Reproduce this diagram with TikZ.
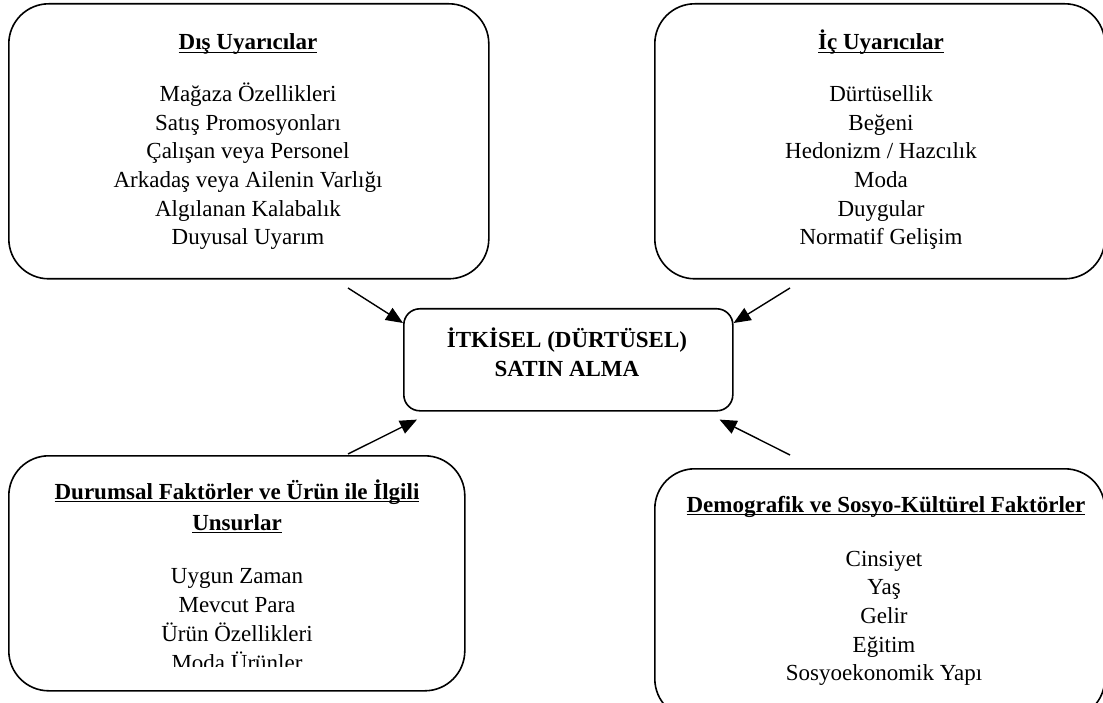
\documentclass[tikz,border=0pt]{standalone}
\usepackage{fontspec}
\setmainfont{Liberation Serif}
\usetikzlibrary{arrows.meta}

\newsavebox{\ckutu}
\newcommand{\cizgili}[1]{\sbox{\ckutu}{#1}\rlap{\rule[-3.3pt]{\wd\ckutu}{1.6pt}}\usebox{\ckutu}}

\tikzset{
  kutu/.style={draw, line width=1.6pt, rounded corners=40pt, anchor=north west, inner sep=0pt},
  merkezkutu/.style={kutu, rounded corners=16pt},
  satir/.style={anchor=base, inner sep=0pt, font=\fontsize{23}{28.7}\selectfont},
  baslik/.style={satir, font=\fontsize{23}{28.7}\selectfont\bfseries},
  ok/.style={-{Triangle[length=17pt,width=14pt]}, line width=1.4pt}
}

\begin{document}
\begin{tikzpicture}[x=1pt,y=-1pt]
\useasboundingbox (0,0) rectangle (1103,703);

% kutular
\node[kutu, minimum width=480pt, minimum height=275pt] (dis) at (8,3) {};
\node[kutu, minimum width=450pt, minimum height=275pt] (ic) at (654,3) {};
\node[merkezkutu, minimum width=329pt, minimum height=102pt] (merkez) at (403,308) {};
\node[kutu, minimum width=456pt, minimum height=235pt] (durum) at (8,455) {};
\node[kutu, minimum width=450pt, minimum height=250pt] (demo) at (654,468) {};

% dis uyaricilar
\node[baslik] (dis-b) at (248,50) {\cizgili{Dış Uyarıcılar}};
\foreach \t [count=\i] in {Mağaza Özellikleri, Satış Promosyonları, Çalışan veya Personel,
  Arkadaş veya Ailenin Varlığı, Algılanan Kalabalık, Duyusal Uyarım}
  \node[satir] (dis-\i) at (248,{101.5+28.7*(\i-1)}) {\t};

% ic uyaricilar
\node[baslik] (ic-b) at (881,50) {\cizgili{İç Uyarıcılar}};
\foreach \t [count=\i] in {Dürtüsellik, Beğeni, Hedonizm / Hazcılık, Moda, Duygular, Normatif Gelişim}
  \node[satir] (ic-\i) at (881,{101.5+28.7*(\i-1)}) {\t};

% merkez
\node[baslik] (merkez-1) at (567,347) {İTKİSEL (DÜRTÜSEL)};
\node[baslik] (merkez-2) at (567,376) {SATIN ALMA};

% durumsal faktorler
\node[baslik] (durum-b1) at (237,499) {\cizgili{Durumsal Faktörler ve Ürün ile İlgili}};
\node[baslik] (durum-b2) at (237,530) {\cizgili{Unsurlar}};
\begin{scope}
\clip (0,0) rectangle (1103,666);
\foreach \t [count=\i] in {Uygun Zaman, Mevcut Para, Ürün Özellikleri, Moda Ürünler}
  \node[satir] (durum-\i) at (237,{583+29*(\i-1)}) {\t};
\end{scope}

% demografik
\node[baslik] (demo-b) at (886,512) {\cizgili{Demografik ve Sosyo-Kültürel Faktörler}};
\foreach \t [count=\i] in {Cinsiyet, Yaş, Gelir, Eğitim, Sosyoekonomik Yapı}
  \node[satir] (demo-\i) at (884,{566+28.7*(\i-1)}) {\t};

% oklar
\coordinate (o1) at (348,288);
\coordinate (o2) at (790,288);
\coordinate (o3) at (348,454);
\coordinate (o4) at (790,455);
\draw[ok] (o1) -- ([yshift=-15pt]merkez.north west);
\draw[ok] (o2) -- ([yshift=-15pt]merkez.north east);
\draw[ok] (o3) -- ([xshift=14pt,yshift=-8pt]merkez.south west);
\draw[ok] (o4) -- ([xshift=-14pt,yshift=-8pt]merkez.south east);
\end{tikzpicture}
\end{document}
